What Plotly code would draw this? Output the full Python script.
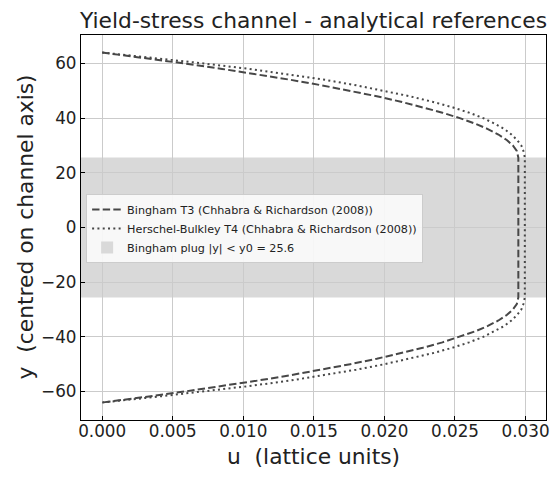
import plotly.graph_objects as go

# y positions (centred on channel axis)
y_pos = [64, 62, 60, 58, 56, 54, 52, 50, 48, 46, 44, 42, 40, 38, 36, 34, 32, 30, 28, 25.6,
         -25.6, -28, -30, -32, -34, -36, -38, -40, -42, -44, -46, -48, -50, -52, -54, -56, -58, -60, -62, -64]

# Bingham T3 velocity profile (dashed)
u_bingham = [0.0, 0.00299, 0.00582, 0.00850, 0.01100, 0.01336, 0.01555, 0.01758, 0.01946, 0.02117,
             0.02272, 0.02411, 0.02534, 0.02642, 0.02733, 0.02808, 0.02867, 0.02910, 0.02938, 0.02949,
             0.02949, 0.02938, 0.02910, 0.02867, 0.02808, 0.02733, 0.02642, 0.02534, 0.02411, 0.02272,
             0.02117, 0.01946, 0.01758, 0.01555, 0.01336, 0.01100, 0.00850, 0.00582, 0.00299, 0.0]

# Herschel-Bulkley T4 velocity profile (dotted)
u_hb = [0.0, 0.0037, 0.0072, 0.0104, 0.0133, 0.0158, 0.0180, 0.0200, 0.0218, 0.0234,
        0.0248, 0.0260, 0.0270, 0.0278, 0.0285, 0.0290, 0.0294, 0.0297, 0.02985, 0.02995,
        0.02995, 0.02985, 0.0297, 0.0294, 0.0290, 0.0285, 0.0278, 0.0270, 0.0260, 0.0248,
        0.0234, 0.0218, 0.0200, 0.0180, 0.0158, 0.0133, 0.0104, 0.0072, 0.0037, 0.0]

plug_y0 = 25.6
x_ticks = [0.000, 0.005, 0.010, 0.015, 0.020, 0.025, 0.030]
y_ticks = [-60, -40, -20, 0, 20, 40, 60]

names = ["Bingham T3 (Chhabra & Richardson (2008))",
         "Herschel-Bulkley T4 (Chhabra & Richardson (2008))",
         "Bingham plug |y| < y0 = 25.6"]

FONT = "DejaVu Sans"
LINE_COL = "#474747"
TXT = "#222"

fig = go.Figure()
fig.add_trace(go.Scatter(x=u_bingham, y=y_pos, mode="lines", name=names[0],
                         line=dict(color=LINE_COL, width=2, dash="7.4px,3.2px"),
                         legendrank=1))
fig.add_trace(go.Scatter(x=u_hb, y=y_pos, mode="lines", name=names[1],
                         line=dict(color=LINE_COL, width=2, dash="2px,3.3px"),
                         legendrank=2))

fig.add_shape(type="rect", xref="paper", x0=0, x1=1, yref="y", y0=-plug_y0, y1=plug_y0,
              fillcolor="#d9d9d9", line=dict(width=0), layer="below",
              showlegend=True, name=names[2], legendrank=3)

axis_common = dict(
    showline=True, linecolor="black", linewidth=1.2, mirror=True,
    ticks="inside", ticklen=4, tickwidth=1, tickcolor="black",
    showgrid=True, gridcolor="#cbcbcb", gridwidth=1, zeroline=False,
    tickfont=dict(family=FONT, size=16.8, color=TXT),
)

fig.update_xaxes(range=[-0.0015, 0.03145], tickvals=x_ticks, tickformat=".3f",
                 ticklabelstandoff=-4,
                 title=dict(text="u  (lattice units)", font=dict(family=FONT, size=21.8, color=TXT),
                            standoff=8),
                 **axis_common)
fig.update_yaxes(range=[-70.4, 70.4], tickvals=y_ticks, **axis_common)

fig.add_annotation(text="y  (centred on channel axis)", xref="paper", yref="paper",
                   x=(25 - 81) / 465, y=0.5, xanchor="center", yanchor="middle",
                   textangle=-90, showarrow=False,
                   font=dict(family=FONT, size=21.8, color=TXT))

fig.update_layout(
    width=559, height=481,
    margin=dict(l=81, r=13, t=35, b=61, autoexpand=False),
    paper_bgcolor="white", plot_bgcolor="white",
    title=dict(text="Yield-stress channel - analytical references",
               font=dict(family=FONT, size=21.8, color=TXT),
               x=0.5, xref="paper", xanchor="center", y=1 - 20 / 481, yref="container", yanchor="middle"),
    legend=dict(x=0.011, y=0.587, xanchor="left", yanchor="top",
                bgcolor="rgba(255,255,255,0.8)", bordercolor="#cccccc", borderwidth=1,
                font=dict(family=FONT, size=11.2, color=TXT),
                itemwidth=30),
    showlegend=True,
)

fig.write_html("out.html")
